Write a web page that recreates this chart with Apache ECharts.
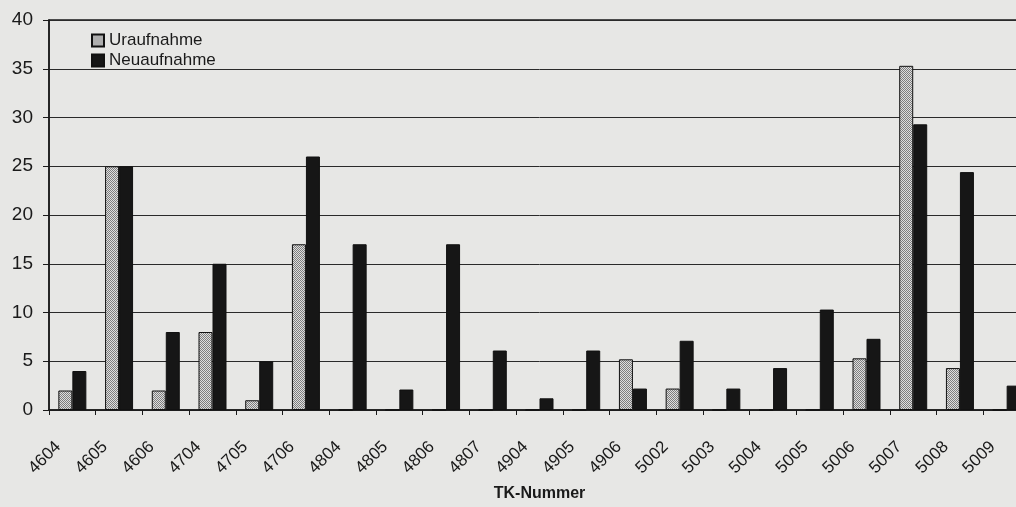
<!DOCTYPE html>
<html>
<head>
<meta charset="utf-8">
<script src="https://cdn.jsdelivr.net/npm/echarts@6/dist/echarts.min.js"></script>
<style>
html,body{margin:0;padding:0;background:#e7e7e5;overflow:hidden;}
#c{width:1030px;height:507px;}
</style>
</head>
<body>
<div id="c"></div>
<script>
const categories = ['4604','4605','4606','4704','4705','4706','4804','4805','4806','4807','4904','4905','4906','5002','5003','5004','5005','5006','5007','5008','5009'];
const uraufnahme = [2,25,2,8,1,17,0,0,0,0,0,0,5.2,2.2,0,0,0,5.3,35.3,4.3,0];
const neuaufnahme = [4,25,8,15,5,26,17,2.1,17,6.1,1.2,6.1,2.2,7.1,2.2,4.3,10.3,7.3,29.3,24.4,2.5];
const yTicks = {min:0, max:40, interval:5};

const pc = document.createElement('canvas');
pc.width = 2; pc.height = 2;
const g = pc.getContext('2d');
g.fillStyle = '#dedede'; g.fillRect(0,0,2,2);
g.fillStyle = '#7e7e7e'; g.fillRect(0,0,1,1); g.fillRect(1,1,1,1);

const chart = echarts.init(document.getElementById('c'));
chart.setOption({
  backgroundColor:'#e7e7e5',
  animation:false,
  textStyle:{fontFamily:'Liberation Sans, Arial, sans-serif', color:'#1a1a1a'},
  grid:{left:49, right:0, top:20, bottom:96, show:true, borderColor:'#1a1a1a', borderWidth:1.5, backgroundColor:'transparent'},
  legend:{
    orient:'vertical', left:86, top:27, itemWidth:12, itemHeight:12, itemGap:3,
    icon:'rect',
    textStyle:{fontSize:17, color:'#1a1a1a', fontFamily:'Liberation Sans, Arial, sans-serif'},
    data:['Uraufnahme','Neuaufnahme']
  },
  xAxis:{
    type:'category', data:categories,
    name:'TK-Nummer', nameLocation:'middle', nameGap:76,
    nameTextStyle:{fontSize:16, fontWeight:'bold', color:'#1a1a1a'},
    axisLine:{lineStyle:{color:'#1a1a1a', width:1.5}},
    axisTick:{show:true, length:5, lineStyle:{color:'#1a1a1a'}},
    axisLabel:{rotate:45, fontSize:17, color:'#1a1a1a', margin:20, interval:0, padding:[0,20,0,0]}
  },
  yAxis:{
    type:'value', min:yTicks.min, max:yTicks.max, interval:yTicks.interval,
    axisLine:{show:true, lineStyle:{color:'#1a1a1a', width:1.5}},
    axisTick:{show:true, length:6, lineStyle:{color:'#1a1a1a'}},
    axisLabel:{fontSize:19, color:'#1a1a1a', margin:16},
    splitLine:{lineStyle:{color:'#2a2a2a', width:1}}
  },
  series:[
    {name:'Uraufnahme', type:'bar', data:uraufnahme, barWidth:14, barGap:'0%',
     itemStyle:{color:{image:pc, repeat:'repeat'}, borderColor:'#111', borderWidth:1}},
    {name:'Neuaufnahme', type:'bar', data:neuaufnahme, barWidth:14, barGap:'0%',
     itemStyle:{color:'#161616', borderColor:'#111', borderWidth:1}}
  ]
});
</script>
</body>
</html>
